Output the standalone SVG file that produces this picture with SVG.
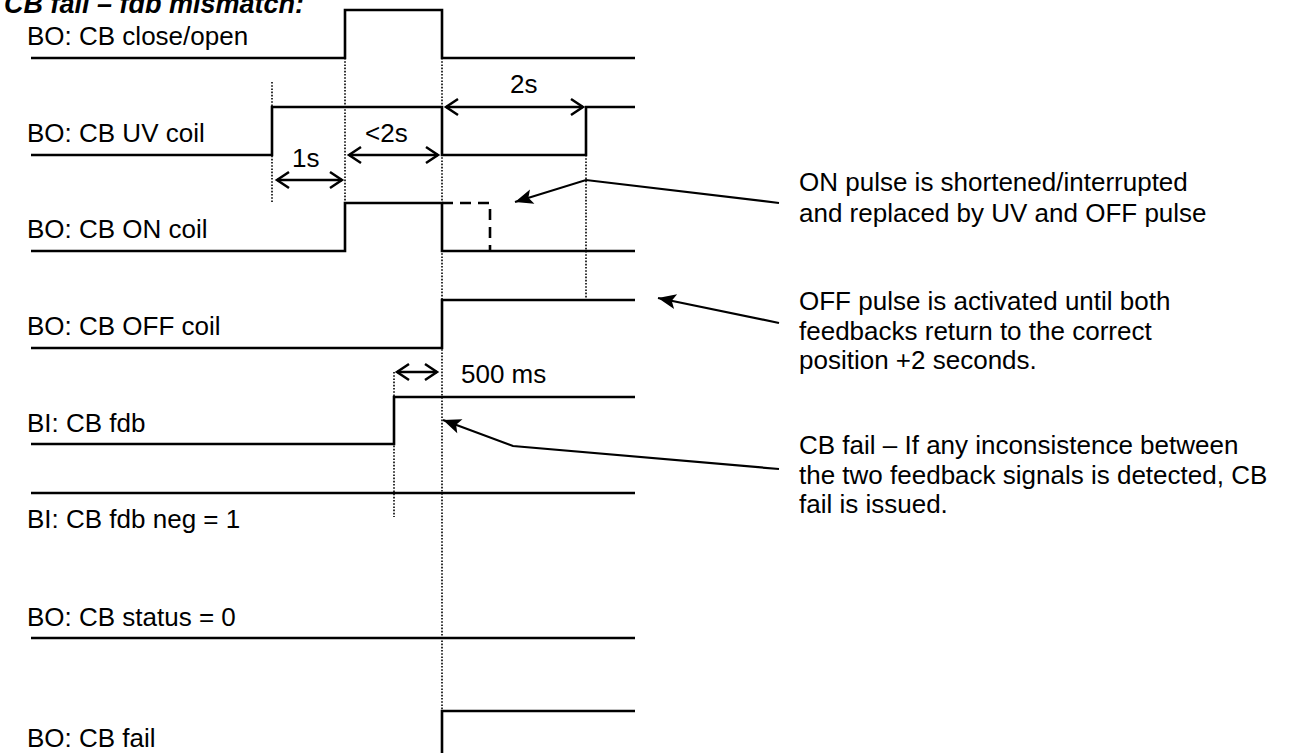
<svg xmlns="http://www.w3.org/2000/svg" width="1296" height="753" viewBox="0 0 1296 753">
  <style>
    text { font-family: "Liberation Sans", Arial, sans-serif; font-size: 26px; fill: #000; }
    .title { font-weight: bold; font-style: italic; font-size: 27px; }
    .wave { fill: none; stroke: #000; stroke-width: 2.6; stroke-linejoin: miter; }
    .dash { fill: none; stroke: #000; stroke-width: 2.6; stroke-dasharray: 11 7; }
    .dot { fill: none; stroke: #000; stroke-width: 1.6; stroke-dasharray: 1.6 1.6; }
    .dim { fill: none; stroke: #000; stroke-width: 2.5; marker-start: url(#chev); marker-end: url(#chev); }
    .call { fill: none; stroke: #000; stroke-width: 2.2; marker-end: url(#tri); }
  </style>
  <defs>
    <marker id="chev" viewBox="-16 -12 20 24" refX="0" refY="0" markerWidth="20" markerHeight="24" markerUnits="userSpaceOnUse" orient="auto-start-reverse">
      <path d="M-12,-8 L0,0 L-12,8" fill="none" stroke="#000" stroke-width="2.5"/>
    </marker>
    <marker id="tri" viewBox="-20 -10 22 20" refX="0" refY="0" markerWidth="22" markerHeight="20" markerUnits="userSpaceOnUse" orient="auto">
      <path d="M0,0 L-18,-7.5 L-14,0 L-18,7.5 Z" fill="#000"/>
    </marker>
  </defs>

  <rect width="1296" height="753" fill="#fff"/>

  <text class="title" x="4" y="13">CB fail – fdb mismatch:</text>

  <!-- timing guide lines -->
  <g id="guides">
    <line class="dot" x1="272" y1="82" x2="272" y2="203"/>
    <line class="dot" x1="345" y1="58" x2="345" y2="203"/>
    <line class="dot" x1="442" y1="58" x2="442" y2="711"/>
    <line class="dot" x1="586" y1="155" x2="586" y2="300"/>
    <line class="dot" x1="394" y1="372" x2="394" y2="517"/>
  </g>

  <g id="sig-close-open">
    <text x="27" y="45">BO: CB close/open</text>
    <path class="wave" d="M31,58 H345 V10 H442 V58 H635"/>
  </g>
  <g id="sig-uv-coil">
    <text x="27" y="142">BO: CB UV coil</text>
    <path class="wave" d="M31,155 H272 V107 H442 V155 H586 V107 H635"/>
  </g>
  <g id="sig-on-coil">
    <text x="27" y="238">BO: CB ON coil</text>
    <path class="wave" d="M31,251 H345 V203 H442 V251 H635"/>
    <path class="dash" d="M442,203 H490 V251"/>
  </g>
  <g id="sig-off-coil">
    <text x="27" y="335">BO: CB OFF coil</text>
    <path class="wave" d="M31,348 H442 V300 H635"/>
  </g>
  <g id="sig-fdb">
    <text x="27" y="432">BI: CB fdb</text>
    <path class="wave" d="M31,444 H394 V397 H635"/>
  </g>
  <g id="sig-fdb-neg">
    <text x="27" y="528">BI: CB fdb neg = 1</text>
    <path class="wave" d="M31,493 H635"/>
  </g>
  <g id="sig-status">
    <text x="27" y="626">BO: CB status = 0</text>
    <path class="wave" d="M31,638 H635"/>
  </g>
  <g id="sig-fail">
    <text x="27" y="747">BO: CB fail</text>
    <path class="wave" d="M442,753 V711 H635"/>
  </g>

  <g id="dimensions">
    <line class="dim" x1="277" y1="180" x2="342" y2="180"/>
    <text x="292" y="167">1s</text>
    <line class="dim" x1="349" y1="155" x2="438" y2="155"/>
    <text x="365" y="142">&lt;2s</text>
    <line class="dim" x1="446" y1="107" x2="583" y2="107"/>
    <text x="510" y="93">2s</text>
    <line class="dim" x1="397" y1="372" x2="437" y2="372"/>
    <text x="461" y="383">500 ms</text>
  </g>

  <g id="connectors">
    <polyline class="call" points="779,203 586,180 515,202"/>
    <polyline class="call" points="779,323 658,298"/>
    <polyline class="call" points="779,469 513,446 443,420"/>
  </g>

  <g id="note-on-pulse">
    <text x="799" y="191">ON pulse is shortened/interrupted</text>
    <text x="799" y="222">and replaced by UV and OFF pulse</text>
  </g>
  <g id="note-off-pulse">
    <text x="799" y="310">OFF pulse is activated until both</text>
    <text x="799" y="340">feedbacks return to the correct</text>
    <text x="799" y="369">position +2 seconds.</text>
  </g>
  <g id="note-cb-fail">
    <text x="799" y="454">CB fail – If any inconsistence between</text>
    <text x="799" y="484">the two feedback signals is detected, CB</text>
    <text x="799" y="513">fail is issued.</text>
  </g>
</svg>
